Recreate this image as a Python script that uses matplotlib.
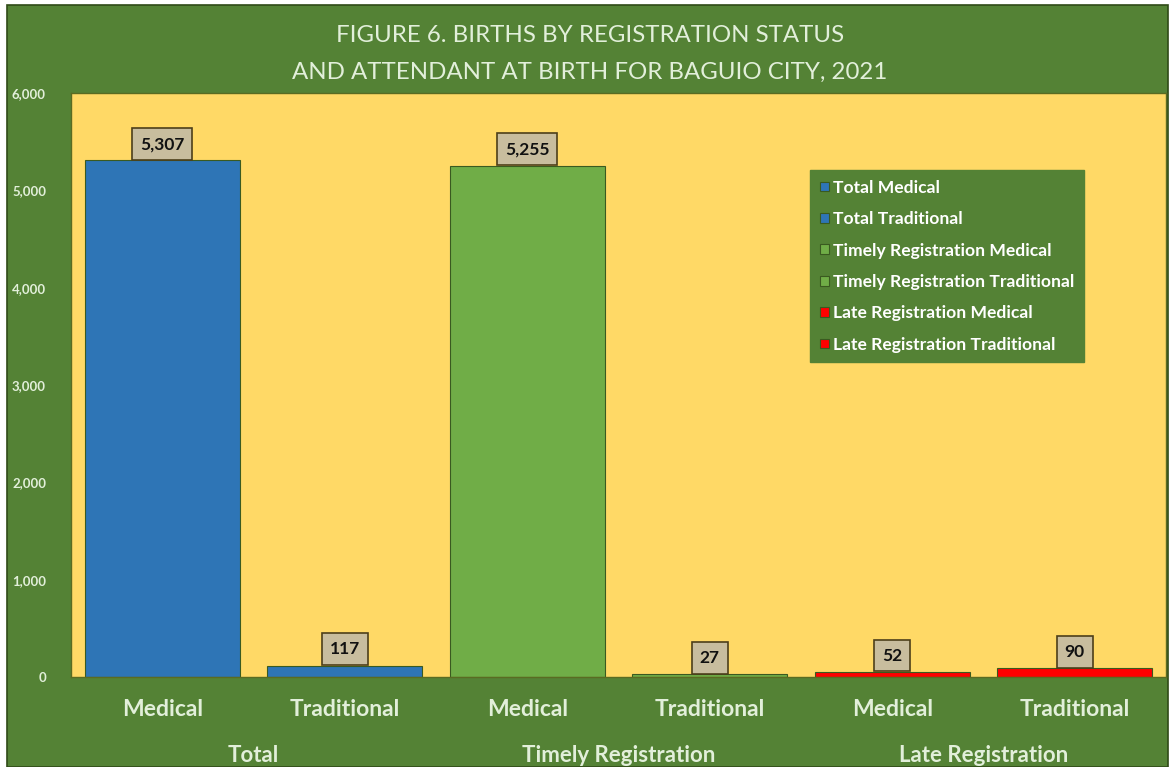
import numpy as np
import matplotlib.pyplot as plt
from matplotlib.patches import Rectangle

plt.rcParams['font.family'] = ['Lato', 'DejaVu Sans']

groups = ['Total', 'Timely Registration', 'Late Registration']
attendants = ['Medical', 'Traditional']
values = [5307, 117, 5255, 27, 52, 90]
series = ['Total Medical', 'Total Traditional',
          'Timely Registration Medical', 'Timely Registration Traditional',
          'Late Registration Medical', 'Late Registration Traditional']
colors = ['#2E75B6', '#2E75B6', '#70AD47', '#70AD47', '#FF0000', '#FF0000']

bg = '#548235'
txt = '#E2EFDA'

fig = plt.figure(figsize=(11.71, 7.67), dpi=100, facecolor='white')
W, H = 1171, 767
fig.patches.append(Rectangle((7 / W, 0), (1168 - 7) / W, 1 - 5 / H,
                             transform=fig.transFigure, facecolor=bg,
                             edgecolor='#2f4a17', linewidth=1.2, zorder=-1))

ax = fig.add_axes([71 / W, 1 - 677 / H, (1166 - 71) / W, (677 - 93) / H])
ax.set_facecolor('#FFD966')
for s in ax.spines.values():
    s.set_color('#5a6b22')
    s.set_linewidth(1)

x = np.arange(len(values))
for i in range(len(values)):
    ax.bar(x[i], values[i], width=0.85, color=colors[i],
           edgecolor='#3a5a20', linewidth=0.8, label=series[i], zorder=2)
    lab = format(values[i], ',')
    ax.annotate(lab, (x[i], values[i]), xytext=(0, 6), textcoords='offset points',
                ha='center', va='bottom', fontsize=12.5, fontweight='bold',
                color='#111111', zorder=4,
                bbox=dict(boxstyle='square,pad=0.45', facecolor='#C8BD9E',
                          edgecolor='#4d3f1a', linewidth=1.2))

ax.set_xlim(-0.5, len(values) - 0.5)
ax.set_ylim(0, 6000)
ax.set_yticks(np.arange(0, 6001, 1000))
ax.set_yticklabels([format(v, ',') for v in range(0, 6001, 1000)],
                   fontsize=9.5, fontweight='bold', color=txt)
ax.tick_params(axis='y', length=0, pad=18)
ax.set_xticks(x)
ax.set_xticklabels(attendants * len(groups), fontsize=16.5, fontweight='bold', color=txt)
ax.tick_params(axis='x', length=0, pad=16)

for g, name in enumerate(groups):
    ax.text(2 * g + 0.5, -0.135, name, transform=ax.get_xaxis_transform(),
            ha='center', va='center', fontsize=16, fontweight='bold', color=txt)

leg = ax.legend(loc='upper left', bbox_to_anchor=(0.675, 0.868), frameon=True,
                facecolor=bg, edgecolor=bg, framealpha=1, fancybox=False,
                borderaxespad=0, handlelength=0.5, handleheight=0.5, handletextpad=0.25,
                labelspacing=0.88, borderpad=0.55, prop=dict(size=12.6, weight='bold'))
for t in leg.get_texts():
    t.set_color('white')

fig.text(0.504, 1 - 35 / H, 'FIGURE 6. BIRTHS BY REGISTRATION STATUS',
         ha='center', va='center', fontsize=17.3, color=txt)
fig.text(0.504, 1 - 72 / H, 'AND ATTENDANT AT BIRTH FOR BAGUIO CITY, 2021',
         ha='center', va='center', fontsize=17.3, color=txt)

fig.savefig('out.png', dpi=100, facecolor=fig.get_facecolor())
